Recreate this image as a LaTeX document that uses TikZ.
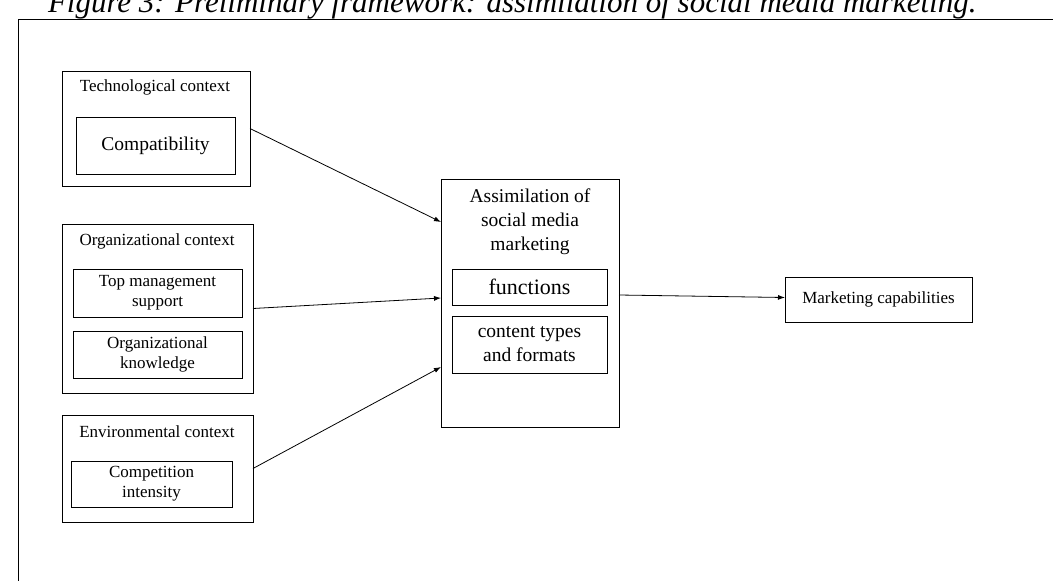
\documentclass[tikz,border=0pt]{standalone}
\usepackage{fontspec}
\setmainfont{Liberation Serif}
\usetikzlibrary{arrows.meta}
\begin{document}
\begin{tikzpicture}[x=1pt,y=-1pt,
  every node/.style={inner sep=0pt, outer sep=0pt},
  frame/.style={draw, line width=0.8pt, anchor=north west},
  lbl/.style={align=center, font=\fontsize{17}{20}\selectfont},
  big/.style={align=center, font=\fontsize{19.5}{24}\selectfont},
  arr/.style={draw, line width=0.8pt, -{Latex[length=7pt,width=5pt]}}]
\useasboundingbox (0,0) rectangle (1053,581);
\clip (0,0) rectangle (1053,581);
% title and outer frame
\node[anchor=base west, font=\fontsize{31}{36}\selectfont\itshape] (title) at (48,12) {Figure 3: Preliminary framework: assimilation of social media marketing.};
\draw[line width=0.8pt] (1060,19) -- (18,19) -- (18,590);
% technological context
\node[frame, minimum width=188pt, minimum height=115pt] (tech) at (62,71) {};
\node[lbl] (techT) at (155,87) {Technological context};
\node[frame, minimum width=159pt, minimum height=57pt, big] (compat) at (76,117) {Compatibility};
% organizational context
\node[frame, minimum width=191pt, minimum height=169pt] (org) at (62,224) {};
\node[lbl] (orgT) at (157,241) {Organizational context};
\node[frame, minimum width=169pt, minimum height=48pt, lbl] (tms) at (73,269) {Top management\\support};
\node[frame, minimum width=169pt, minimum height=47pt, lbl] (ok) at (73,331) {Organizational\\knowledge};
% environmental context
\node[frame, minimum width=191pt, minimum height=107pt] (env) at (62,415) {};
\node[lbl] (envT) at (157,432) {Environmental context};
\node[frame, minimum width=161pt, minimum height=46pt, lbl] (ci) at (71,461) {Competition\\intensity};
% assimilation
\node[frame, minimum width=178pt, minimum height=248pt] (assim) at (441,179) {};
\node[big] (assimT) at (530,222) {Assimilation of\\social media\\marketing};
\node[frame, minimum width=155pt, minimum height=36pt, font=\fontsize{22}{26}\selectfont] (func) at (452,269) {functions};
\node[frame, minimum width=155pt, minimum height=57pt, big] (ctf) at (452,316) {content types\\and formats};
% outcome
\node[frame, minimum width=187pt, minimum height=45pt, lbl] (mc) at (785,277) {Marketing capabilities};
% connectors
\draw[arr] (tech.east) -- ([yshift=-43pt]assim.north west);
\draw[arr] (org.east) -- ([yshift=-119pt]assim.north west);
\draw[arr] (env.east) -- ([yshift=-188pt]assim.north west);
\draw[arr] ([yshift=-116pt]assim.north east) -- ([yshift=2pt]mc.west);
\end{tikzpicture}
\end{document}
